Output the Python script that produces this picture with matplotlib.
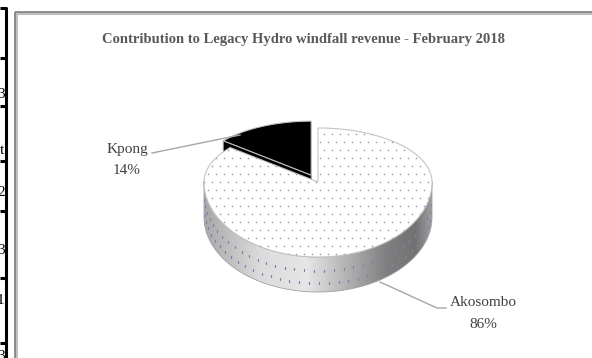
import numpy as np
import matplotlib
matplotlib.use("Agg")
import matplotlib.pyplot as plt
from matplotlib.patches import Polygon, Rectangle
from matplotlib.colors import LinearSegmentedColormap

# Data
labels = ["Akosombo", "Kpong"]
shares = [86, 14]
title = "Contribution to Legacy Hydro windfall revenue - February 2018"
table_bits = ["3", "t", "2", "3", "1", "3"]

fig = plt.figure(figsize=(5.92, 3.58), dpi=100)
ax = fig.add_axes([0, 0, 1, 1])
ax.set_xlim(0, 592)
ax.set_ylim(358, 0)
ax.axis("off")

# table fragment on the far left
ax.plot([0, 5.5, 5.5], [8, 8, 358], color="black", lw=2.2, solid_capstyle="butt")
for yy in [58, 106, 161, 211, 278, 343]:
    ax.plot([0, 7], [yy, yy], color="black", lw=2.2, solid_capstyle="butt")
for yy, t in zip([95, 150, 193, 250, 300, 356], table_bits):
    ax.text(4.5, yy, t, ha="right", va="center", fontsize=11,
            family="Liberation Serif", color="black")

# chart frame
ax.add_patch(Rectangle((16, 13), 600, 400, fill=False, ec="#c0c0c0", lw=2.2))
ax.add_patch(Rectangle((15, 12), 600, 400, fill=False, ec="#7f7f7f", lw=1.2))

ax.text(304, 40, title, ha="center", va="center", fontsize=10.5,
        family="Liberation Serif", weight="bold", color="#595959")

# pseudo 3D pie geometry
cx, cy = 318, 182
a, b_back, b_front = 114, 54, 75
depth = 35


def pt(theta, dx=0.0, dy=0.0, drop=0.0):
    t = np.radians(theta)
    s = np.sin(t)
    b = np.where(s > 0, b_back, b_front)
    return cx + a * np.cos(t) + dx, cy - b * s + dy + drop


# angles from the data
start = 90.0
spans = [v / sum(shares) * 360 for v in shares]
k_lo, k_hi = start, start + spans[1]          # Kpong
a_lo, a_hi = k_hi, start + 360                # Akosombo

# Kpong (exploded)
mid = np.radians((k_lo + k_hi) / 2)
ex = 0.14
kdx, kdy = ex * a * np.cos(mid), -ex * b_back * np.sin(mid)
ox, oy = pt(k_hi, kdx, kdy)
side = [(cx + kdx, cy + kdy), (ox, oy), (ox, oy + depth), (cx + kdx, cy + kdy + depth)]
ax.add_patch(Polygon(side, closed=True, fc="black", ec="#909090", lw=0.8, zorder=2))
th = np.linspace(k_lo, k_hi, 60)
xs, ys = pt(th, kdx, kdy)
kp = [(cx + kdx, cy + kdy)] + list(zip(xs, ys))
ax.add_patch(Polygon(kp, closed=True, fc="black", ec="#bfbfbf", lw=0.8, zorder=3))

# Akosombo side wall with gradient
th = np.linspace(180, 360, 120)
xt, yt = pt(th)
xb, yb = pt(th[::-1], drop=depth)
wall = Polygon(list(zip(xt, yt)) + list(zip(xb, yb)), closed=True,
               fc="none", ec="#a0a0a0", lw=0.6, zorder=5)
ax.add_patch(wall)
cmap = LinearSegmentedColormap.from_list(
    "wall", [(0, "#a8a8a8"), (0.25, "#dcdcdc"), (0.45, "#e6e6e6"),
             (0.8, "#808080"), (0.93, "#727272"), (1, "#a0a0a0")])
grad = np.tile(np.linspace(0, 1, 256), (10, 1))
im = ax.imshow(grad, cmap=cmap, extent=[cx - a, cx + a, cy + b_front + depth, cy - 5],
               aspect="auto", zorder=4, interpolation="bilinear")
im.set_clip_path(wall)
ax.set_xlim(0, 592)
ax.set_ylim(358, 0)

for frac, off in [(0.4, 0.0), (0.75, 2.5)]:
    th = np.arange(183 + off, 358, 5.0)
    dxs, dys = pt(th, drop=depth * frac)
    d = ax.scatter(dxs, dys, marker="|", s=4, lw=0.9, color="#7487ad", zorder=5)
    d.set_clip_path(wall)

# Akosombo top face
th = np.linspace(a_lo, a_hi, 200)
xs, ys = pt(th)
top = Polygon([(cx, cy)] + list(zip(xs, ys)), closed=True,
              fc="white", ec="#c4c4c4", lw=0.8, zorder=6)
ax.add_patch(top)
gx, gy = [], []
for i, yy in enumerate(np.arange(118, 265, 8)):
    for xx in np.arange(196 + (i % 2) * 4, 440, 8):
        gx.append(xx)
        gy.append(yy)
dots = ax.scatter(gx, gy, s=1.4, color="#88a0cc", lw=0, zorder=7)
dots.set_clip_path(top)

# leader lines and labels
lab_kw = dict(family="Liberation Serif", fontsize=11, color="#404040",
              ha="center", va="center")
ax.plot([152, 240], [153, 135], color="#a6a6a6", lw=1.0, zorder=8)
ax.text(127, 149, labels[1], **lab_kw)
ax.text(127, 170, f"{shares[1]}%", **lab_kw)

ax.plot([380, 437, 446], [282, 308, 308], color="#a6a6a6", lw=1.0, zorder=8)
ax.text(483, 303, labels[0], **lab_kw)
ax.text(483, 325, f"{shares[0]}%", **lab_kw)

fig.savefig("out.png", dpi=100)
